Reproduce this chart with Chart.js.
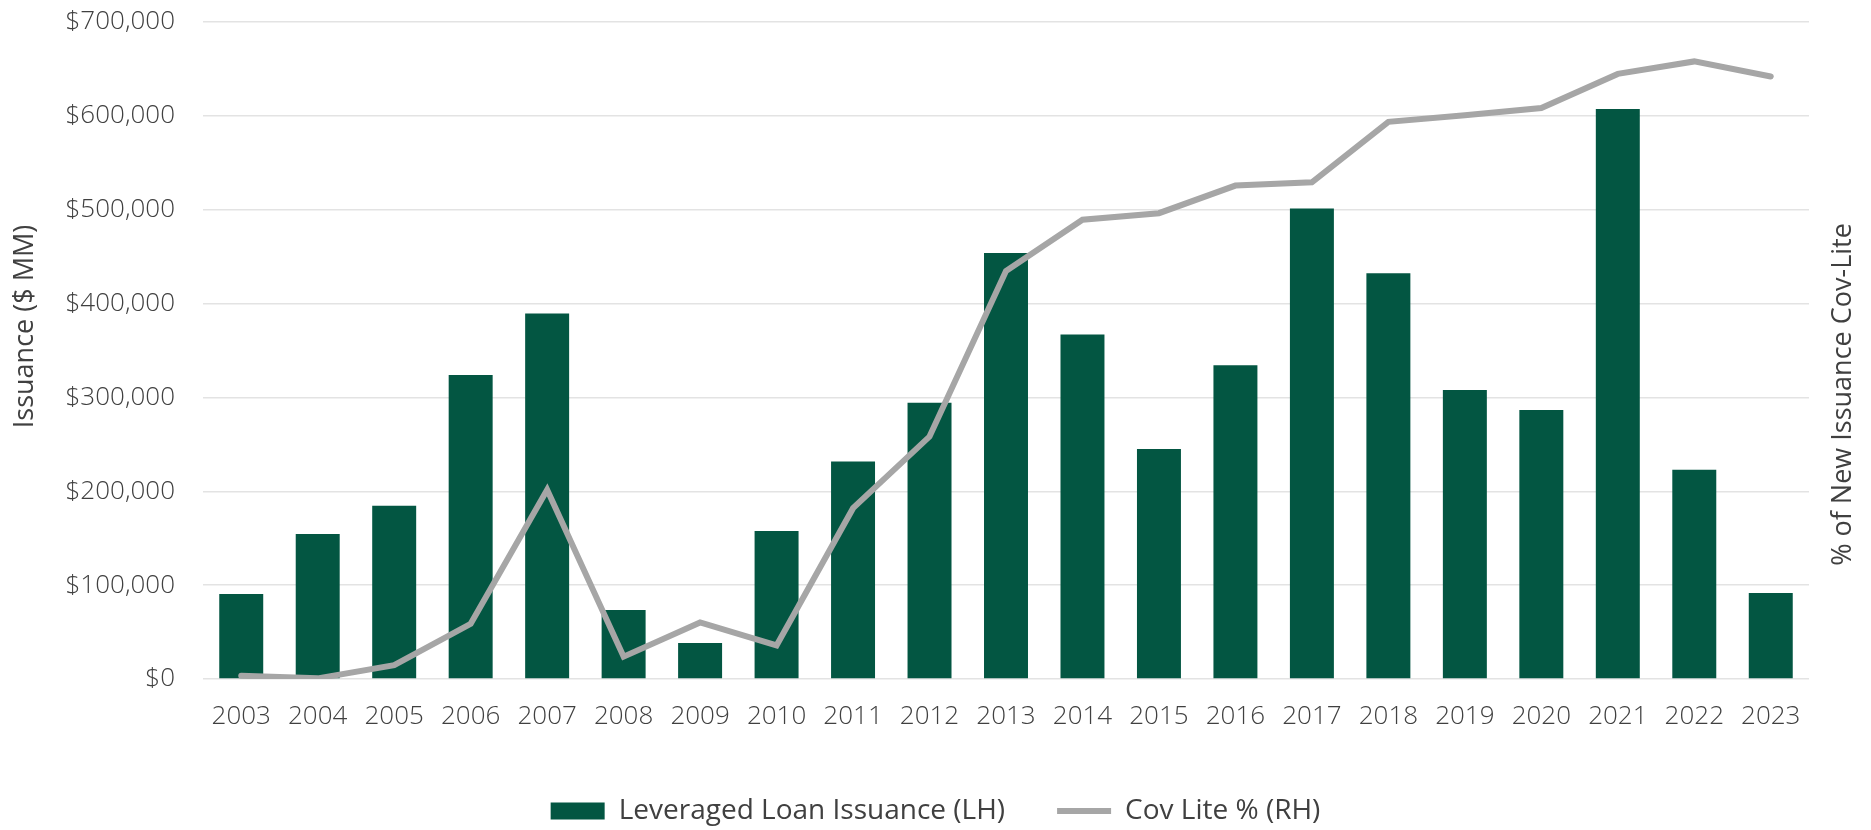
<!DOCTYPE html>
<html>
<head>
<meta charset="utf-8">
<title>Leveraged Loan Issuance vs Cov Lite %</title>
<script src="https://cdn.jsdelivr.net/npm/chart.js@4.4.1/dist/chart.umd.min.js"></script>
<style>
  body { margin: 0; background: #fff; }
  #wrap { width: 1871px; height: 830px; position: relative; }
</style>
</head>
<body>
<div id="wrap"><canvas id="loan-chart"></canvas></div>
<script>
// years on the x axis
const years = ['2003', '2004', '2005', '2006', '2007', '2008', '2009', '2010', '2011', '2012',
  '2013', '2014', '2015', '2016', '2017', '2018', '2019', '2020', '2021', '2022', '2023'];

// leveraged loan issuance, $ MM (left axis)
const issuance = [90500, 154400, 184600, 324000, 389400, 73500, 38300, 157600, 231700, 294300,
  453900, 367000, 245000, 334400, 501200, 432400, 308000, 286500, 607300, 222900, 91600];

// cov lite share of new issuance, % (right axis, labels hidden)
const covLite = [0.5, 0.1, 2.1, 8.4, 28.8, 3.4, 8.6, 5.1, 26.0, 36.9,
  62.1, 69.9, 70.9, 75.1, 75.6, 84.8, 85.8, 86.9, 92.1, 94.0, 91.7];

const leftTicks = [0, 100000, 200000, 300000, 400000, 500000, 600000, 700000];

const leftTitle = 'Issuance ($ MM)';
const rightTitle = '% of New Issuance Cov-Lite';

const fontFamily = "'Open Sans', 'DejaVu Sans', sans-serif";
const textColor = '#404040';

function money(v) {
  return '$' + Number(v).toLocaleString('en-US');
}

// both axis titles read bottom-to-top, so draw them ourselves
const sideTitles = {
  id: 'sideTitles',
  afterDraw(chart) {
    const c = chart.ctx;
    const area = chart.chartArea;
    const mid = (area.top + area.bottom) / 2;
    c.save();
    c.fillStyle = textColor;
    c.font = '27px ' + fontFamily;
    c.textAlign = 'center';
    c.textBaseline = 'middle';
    // left title
    c.save();
    c.translate(area.left - 178, mid - 24);
    c.rotate(-Math.PI / 2);
    c.fillText(leftTitle, 0, 0);
    c.restore();
    // right title
    c.save();
    c.translate(area.right + 34, mid + 44);
    c.rotate(-Math.PI / 2);
    c.fillText(rightTitle, 0, 0);
    c.restore();
    c.restore();
  }
};

function chartIt() {
  const ctx = document.getElementById('loan-chart').getContext('2d');
  const myChart = new Chart(ctx, {
    data: {
      labels: years,
      datasets: [
        {
          type: 'line',
          label: 'Cov Lite % (RH)',
          data: covLite,
          yAxisID: 'yRight',
          borderColor: '#A6A6A6',
          backgroundColor: '#A6A6A6',
          borderWidth: 6,
          borderCapStyle: 'round',
          pointRadius: 0,
          pointHoverRadius: 0,
          pointStyle: 'line',
          tension: 0,
          order: 0
        },
        {
          type: 'bar',
          label: 'Leveraged Loan Issuance (LH)',
          data: issuance,
          yAxisID: 'yLeft',
          backgroundColor: '#035642',
          borderWidth: 0,
          categoryPercentage: 1,
          barPercentage: 0.575,
          pointStyle: 'rect',
          order: 1
        }
      ]
    },
    options: {
      responsive: true,
      maintainAspectRatio: false,
      animation: false,
      layout: {
        padding: { top: 22, left: 0, right: 0, bottom: -5 }
      },
      plugins: {
        tooltip: { enabled: false },
        legend: {
          position: 'bottom',
          reverse: true,
          labels: {
            usePointStyle: true,
            pointStyleWidth: 54,
            boxHeight: 17,
            padding: 52,
            color: textColor,
            font: { family: fontFamily, size: 28 }
          }
        }
      },
      scales: {
        x: {
          grid: { display: false },
          border: { display: false },
          afterFit: function(axis) { axis.height = 66; },
          ticks: {
            color: textColor,
            padding: 14,
            maxRotation: 0,
            autoSkip: false,
            font: { family: fontFamily, size: 26, weight: 300 }
          }
        },
        yLeft: {
          position: 'left',
          min: 0,
          max: 700000,
          afterBuildTicks: function(axis) {
            axis.ticks = leftTicks.map(function(v) { return { value: v }; });
          },
          afterFit: function(axis) {
            axis.width = 203;
            axis.paddingTop = 0;
            axis.paddingBottom = 0;
          },
          grid: { color: '#E3E3E3', lineWidth: 1.5, drawTicks: false },
          border: { display: false },
          ticks: {
            color: textColor,
            padding: 28,
            font: { family: fontFamily, size: 26, weight: 300 },
            callback: function(value) { return money(value); }
          }
        },
        yRight: {
          position: 'right',
          min: 0,
          max: 100,
          afterFit: function(axis) { axis.width = 62; },
          grid: { display: false, drawTicks: false },
          border: { display: false },
          ticks: { display: false }
        }
      }
    },
    plugins: [sideTitles]
  });
  return myChart;
}

chartIt();
</script>
</body>
</html>
